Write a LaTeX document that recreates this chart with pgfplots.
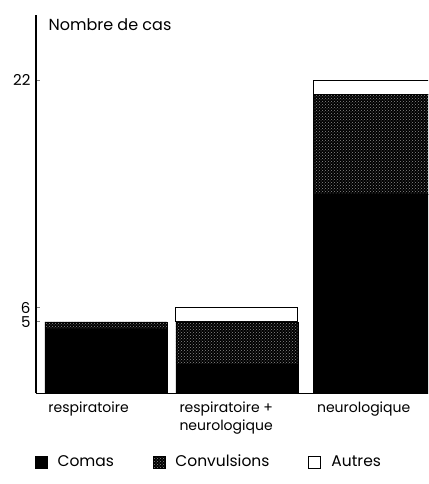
\documentclass[border=0pt]{standalone}
\usepackage{fontspec}
\setmainfont{Poppins}
\usepackage{pgfplots}
\pgfplotsset{compat=1.18}
\usetikzlibrary{patterns}
\begin{document}
\fontsize{13}{16}\selectfont
\begin{tikzpicture}
\begin{axis}[
  name=ax,
  scale only axis,
  width=392pt, height=378pt,
  xmin=-0.534, xmax=2.458,
  ymin=0, ymax=26.6,
  ybar stacked, bar width=122pt,
  axis lines=left,
  axis line style={-},
  x axis line style={line width=0.6pt},
  y axis line style={line width=1.6pt},
  xtick={0,1,2.05},
  xticklabels={respiratoire, {respiratoire +\\neurologique}, neurologique},
  xticklabel style={anchor=north west, align=left, xshift=-62pt, yshift=-2pt, font=\fontsize{14}{18}\selectfont},
  xtick style={draw=none},
  ytick={5,6,22},
  ytick align=inside,
  major tick length=4pt,
  ytick style={line width=1pt},
  yticklabel style={font=\fontsize{15}{16}\selectfont, xshift=-1pt, inner ysep=0pt},
  /pgf/number format/assume math mode=true,
  ylabel={Nombre de cas},
  every axis y label/.style={at={(rel axis cs:0,1)}, anchor=north west, xshift=8pt, yshift=1pt, font=\fontsize{16}{18}\selectfont},
  legend columns=3,
  legend style={at={(rel axis cs:0,0)}, anchor=north west, xshift=-4pt, yshift=-58pt, draw=none, fill=none, font=\fontsize{15.5}{18}\selectfont},
  /tikz/every even column/.append style={column sep=37pt},
  /tikz/every odd column/.append style={column sep=8pt},
  legend image code/.code={\draw[#1, draw=black] (0pt,-6pt) rectangle (12pt,6pt);},
]
\addplot+[ybar, fill=black, draw=black] coordinates {(0,4.5) (1,2) (2.05,14)};
\addlegendentry{Comas\hspace{21pt}}
\addplot+[ybar, fill=black, draw=black, postaction={pattern=crosshatch dots, pattern color=black!45}] coordinates {(0,0.5) (1,3) (2.05,7)};
\addlegendentry{Convulsions}
\addplot+[ybar, fill=white, draw=black, line width=1pt] coordinates {(0,0) (1,1) (2.05,1)};
\addlegendentry{Autres}
\end{axis}
\path (ax.south west) ++(-36pt,-91pt) rectangle ++(428pt,484pt);
\end{tikzpicture}
\end{document}
